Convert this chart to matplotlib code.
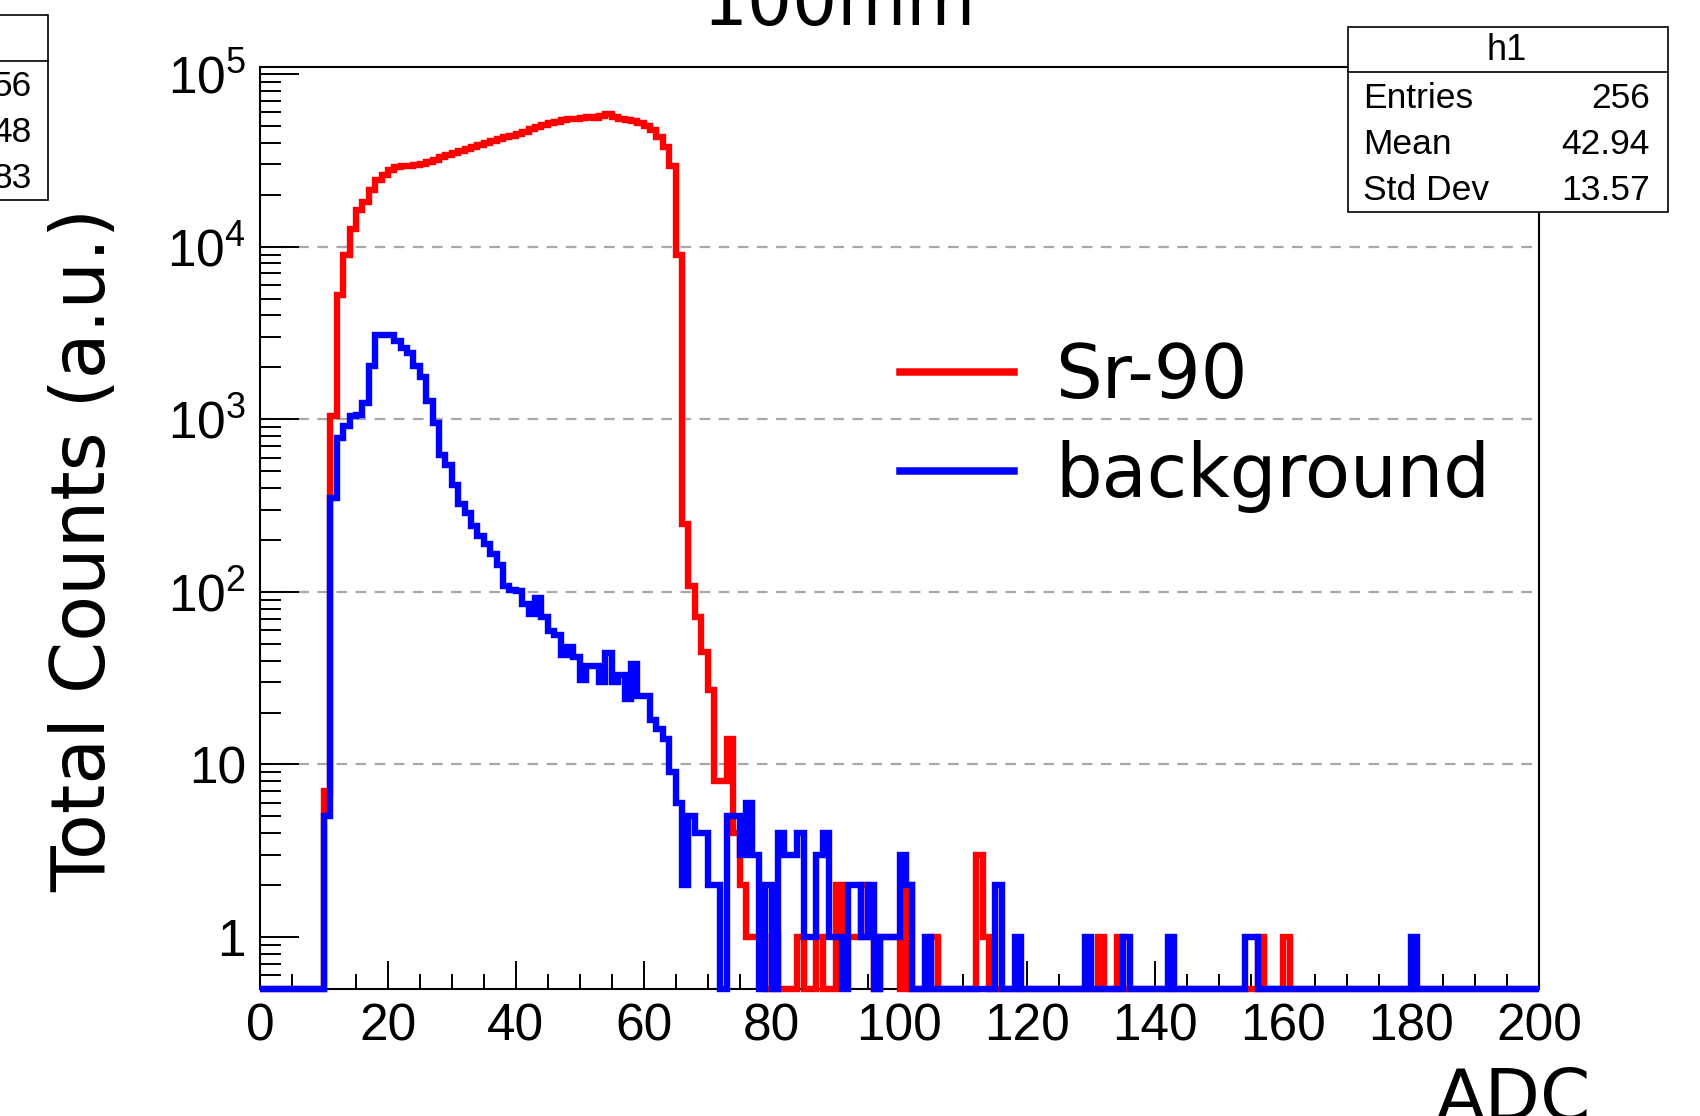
import numpy as np
import matplotlib
matplotlib.use('Agg')
import matplotlib.pyplot as plt
from matplotlib import font_manager
from matplotlib.lines import Line2D
from matplotlib.patches import Rectangle
from matplotlib.ticker import MultipleLocator, LogLocator, FuncFormatter

# ADC histogram, 1 ADC per bin, 0..200
bin_edges = np.arange(0, 201)

# Sr-90 counts for bins 10..78, then a few sparse tail bins
sr90_start = 10
sr90_counts = [7, 1050, 5250, 8990, 12600, 16300, 18200, 21400, 24200, 26000,
               27900, 28800, 29200, 29400, 29700, 30200, 30800, 31900, 32900, 34000,
               34800, 35800, 36800, 37800, 38800, 39800, 40900, 42000, 43200, 44000,
               45100, 46500, 48000, 49700, 50800, 52000, 52900, 53900, 54800, 55300,
               55800, 56300, 56000, 57300, 58600, 56300, 54800, 54300, 53400, 52000,
               50200, 47500, 43100, 37700, 29400, 9000, 246, 108, 72, 45,
               27, 8, 8, 14, 4, 2, 1, 1, 1]
sr90_tail_bins = [80, 84, 87, 90, 91, 92, 93, 94, 95, 97, 98, 99, 101, 105, 112, 113,
                  131, 134, 156, 160]
sr90_tail_counts = [1, 1, 1, 2, 1, 1, 1, 2, 1, 1, 1, 1, 2, 1, 3, 1,
                    1, 1, 1, 1]

# background counts for bins 10..104, then sparse tail bins
bkg_start = 10
bkg_counts = [5, 350, 780, 915, 1040, 1065, 1245, 2030, 3090, 3090,
              3090, 2830, 2600, 2420, 2030, 1750, 1280, 956, 625, 547,
              419, 321, 287, 240, 210, 190, 165, 144, 108, 103,
              101, 85, 74, 92, 72, 59, 56, 43, 48, 42,
              31, 37, 37, 30, 44, 30, 33, 24, 38, 25,
              25, 18, 16, 14, 9, 6, 2, 5, 4, 4,
              2, 2, 0, 5, 5, 3, 6, 3, 0, 2,
              0, 4, 3, 3, 4, 1, 1, 3, 4, 1,
              1, 0, 2, 2, 1, 2, 0, 1, 1, 1,
              3, 2, 0, 0, 1]
bkg_tail_bins = [115, 118, 129, 135, 142, 154, 155, 180]
bkg_tail_counts = [2, 1, 1, 1, 1, 1, 1, 1]

legend_labels = ['Sr-90', 'background']
stats_names = ['Entries', 'Mean', 'Std Dev']
stats_values = ['256', '42.94', '13.57']
left_stats_values = ['56', '48', '83']

y_floor = 0.5
y_top = 1.1e5
dashed_levels = [10, 100, 1000, 10000]

names = {f.name for f in font_manager.fontManager.ttflist}
narrow = 'Liberation Sans Narrow' if 'Liberation Sans Narrow' in names else 'Liberation Sans'


def fill_hist(start, counts, tail_bins, tail_counts):
    h = np.zeros(len(bin_edges) - 1)
    h[start:start + len(counts)] = counts
    h[tail_bins] = tail_counts
    # ROOT draws empty bins on the bottom of the frame
    return np.where(h > 0, h, y_floor)


sr90 = fill_hist(sr90_start, sr90_counts, sr90_tail_bins, sr90_tail_counts)
bkg = fill_hist(bkg_start, bkg_counts, bkg_tail_bins, bkg_tail_counts)

fig = plt.figure(figsize=(17, 11.16), dpi=100)
ax = fig.add_axes([260 / 1700, 1 - 989 / 1116, 1279 / 1700, 922 / 1116])

ax.set_xlim(0, 200)
ax.set_yscale('log')
ax.set_ylim(y_floor, y_top)

for lev in dashed_levels:
    ax.axhline(lev, color='#a8a8a8', lw=1.6, ls=(0, (4.8, 3.8)), zorder=1)

for vals, col in ((sr90, '#ff0000'), (bkg, '#0000ff')):
    st = ax.stairs(vals, bin_edges, baseline=None, color=col, lw=4.6,
                   clip_on=False, zorder=3)
    st.set_joinstyle('miter')

for sp in ax.spines.values():
    sp.set_linewidth(1.5)

ax.xaxis.set_major_locator(MultipleLocator(20))
ax.xaxis.set_minor_locator(MultipleLocator(5))
ax.yaxis.set_major_locator(LogLocator(base=10, numticks=12))
ax.yaxis.set_minor_locator(LogLocator(base=10, subs=np.arange(2, 10), numticks=40))


def ylab(v, pos):
    n = int(round(np.log10(v)))
    if n == 0:
        return '1'
    if n == 1:
        return '10'
    return r'$\mathregular{10^{%d}}$' % n


ax.yaxis.set_major_formatter(FuncFormatter(ylab))
ax.tick_params(which='both', direction='in', top=False, right=False, width=1.4)
ax.tick_params(axis='x', which='major', length=20, pad=10, labelsize=37,
               labelfontfamily=narrow)
ax.tick_params(axis='x', which='minor', length=11)
ax.tick_params(axis='y', which='major', length=28, pad=10, labelsize=37,
               labelfontfamily=narrow)
ax.tick_params(axis='y', which='minor', length=15)

handles = [Line2D([], [], color='#ff0000', lw=5.4),
           Line2D([], [], color='#0000ff', lw=5.4)]
ax.legend(handles, legend_labels, loc='center left',
          bbox_to_anchor=(900 / 1700, 1 - 427 / 1116), bbox_transform=fig.transFigure,
          frameon=False, fontsize=53, handlelength=1.55, handletextpad=0.56,
          labelspacing=0.36, borderpad=0, borderaxespad=0)

fig.text(0.05, 0.507, 'Total Counts (a.u.)', rotation=90, fontsize=54,
         ha='center', va='center')
fig.text(0.936, -0.004, 'ADC', fontsize=52, ha='right', va='baseline')
fig.text(0.4935, 0.978, '100mm', fontsize=51, ha='center', va='baseline')


def stats_box(x0, x1, ytop, ybot, ydiv):
    fx0, fx1 = x0 / 1700, x1 / 1700
    fy0, fy1 = 1 - ybot / 1116, 1 - ytop / 1116
    fig.add_artist(Rectangle((fx0, fy0), fx1 - fx0, fy1 - fy0, transform=fig.transFigure,
                             fc='white', ec='black', lw=1.2, zorder=10))
    fig.add_artist(Line2D([fx0, fx1], [1 - ydiv / 1116] * 2, transform=fig.transFigure,
                          color='black', lw=1.2, zorder=11))


# h1 stats box (top right)
stats_box(1348, 1668, 27, 212, 72)
fig.text(1507 / 1700, 1 - 50 / 1116, 'h1', fontsize=26, family='Liberation Sans',
         ha='center', va='center', zorder=12)
for i, (nm, val) in enumerate(zip(stats_names, stats_values)):
    yy = 1 - (98 + 46 * i) / 1116
    fig.text(1363 / 1700, yy, nm, fontsize=25.5, family='Liberation Sans',
             ha='left', va='center', zorder=12)
    fig.text(1650 / 1700, yy, val, fontsize=25.5, family='Liberation Sans',
             ha='right', va='center', zorder=12)

# second stats box, cut by the left edge of the canvas
stats_box(-280, 48, 15, 200, 61)
for i, val in enumerate(left_stats_values):
    yy = 1 - (87 + 46 * i) / 1116
    fig.text(32 / 1700, yy, val, fontsize=25.5, family='Liberation Sans',
             ha='right', va='center', zorder=12)

fig.savefig('out.png', dpi=100)
